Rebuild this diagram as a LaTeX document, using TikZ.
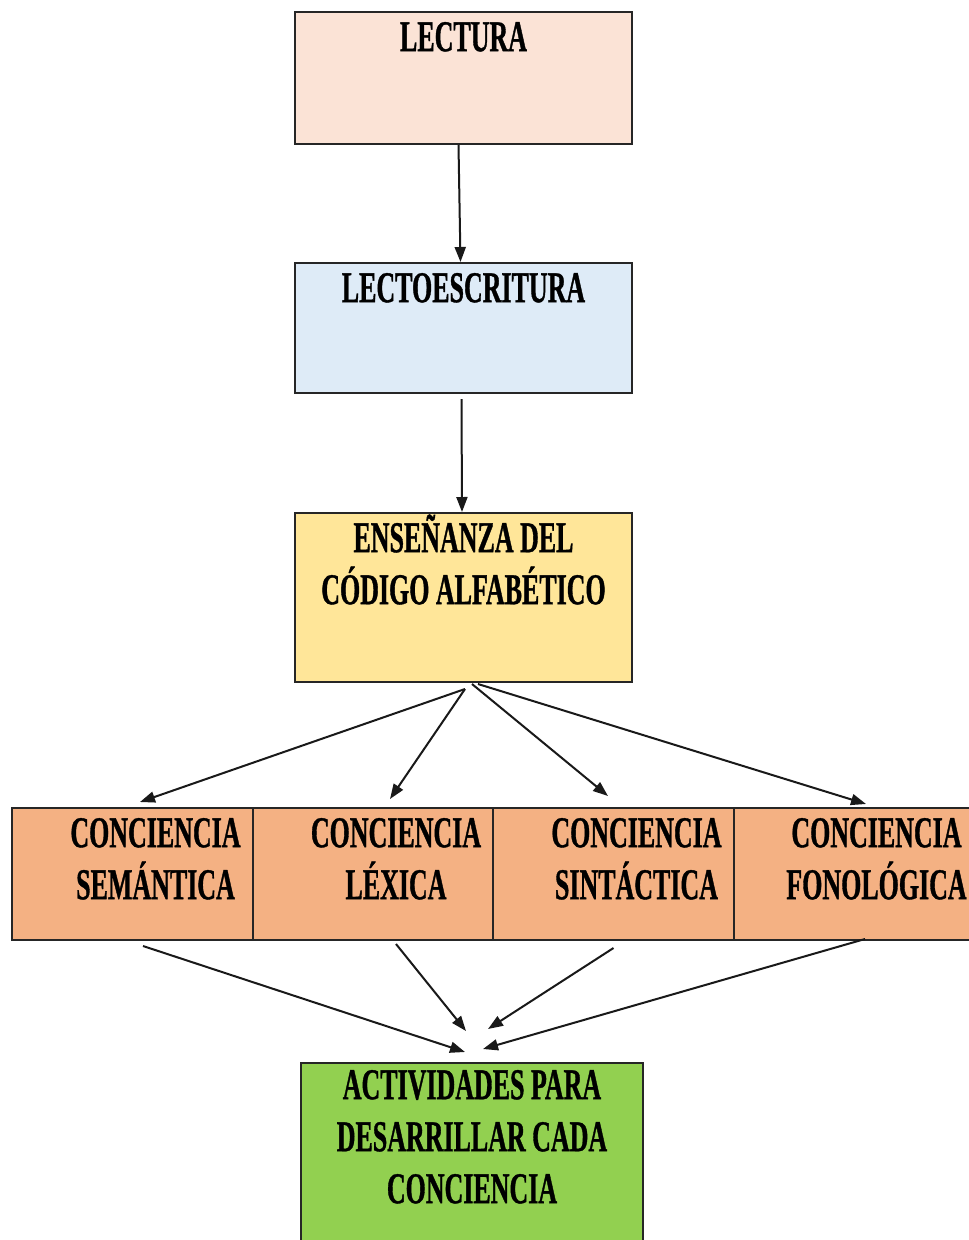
\documentclass[tikz,border=0pt]{standalone}
\usepackage{fontspec}
\newfontfamily\rotfont[FakeStretch=0.59,FakeBold=0.8]{Liberation Serif}
\usetikzlibrary{positioning,arrows.meta}
\definecolor{cLectura}{HTML}{FBE3D6}
\definecolor{cLecto}{HTML}{DEEBF7}
\definecolor{cCodigo}{HTML}{FFE699}
\definecolor{cConc}{HTML}{F4B183}
\definecolor{cAct}{HTML}{92D050}
\def\tope{\rule{0pt}{40pt}}
\tikzset{
  caja/.style={draw=black!85, line width=2pt, inner sep=0pt},
  celda/.style={caja, fill=cConc, minimum width=241pt, minimum height=132pt},
  rotulo/.style={font=\rotfont\bfseries\fontsize{44}{52}\selectfont, align=center, inner sep=0pt, anchor=north},
  flecha/.style={line width=2pt, draw=black!90, -{Triangle[length=15pt,width=11pt]}},
}

\begin{document}
\begin{tikzpicture}[x=1pt,y=-1pt]
\useasboundingbox (0,0) rectangle (969,1240);
% cajas
\node[caja, fill=cLectura, minimum width=337pt, minimum height=132pt] (lectura) at (463.5,78) {};
\node[caja, fill=cLecto, minimum width=337pt, minimum height=130pt] (lecto) at (463.5,328) {};
\node[caja, fill=cCodigo, minimum width=337pt, minimum height=169pt] (codigo) at (463.5,597.5) {};
\node[celda] (sem) at (132.5,874) {};
\node[celda] (lex) at (373,874) {};
\node[celda] (sin) at (613.5,874) {};
\node[celda] (fon) at (854.5,874) {};
\node[caja, fill=cAct, minimum width=342pt, minimum height=200pt] (act) at (472,1163) {};
% textos
\node[rotulo] (lectura-t) at (lectura.north) {\tope LECTURA};
\node[rotulo] (lecto-t) at (lecto.north) {\tope LECTOESCRITURA};
\node[rotulo] (codigo-t) at (codigo.north) {\tope ENSEÑANZA DEL\\CÓDIGO ALFABÉTICO};
\node[rotulo] (sem-t) at ([xshift=23pt]sem.north) {\tope CONCIENCIA\\SEMÁNTICA};
\node[rotulo] (lex-t) at ([xshift=23pt]lex.north) {\tope CONCIENCIA\\LÉXICA};
\node[rotulo] (sin-t) at ([xshift=23pt]sin.north) {\tope CONCIENCIA\\SINTÁCTICA};
\node[rotulo] (fon-t) at ([xshift=22pt]fon.north) {\tope CONCIENCIA\\FONOLÓGICA};
\node[rotulo, yshift=3pt] (act-t) at (act.north) {\tope ACTIVIDADES PARA\\DESARRILLAR CADA\\CONCIENCIA};
% flechas
\draw[flecha] ([xshift=-5pt]lectura.south) -- ([xshift=-3pt]lecto.north);
\draw[flecha] ([xshift=-2pt,yshift=-5pt]lecto.south) -- ([xshift=-1.5pt]codigo.north);
\draw[flecha] ([xshift=1.5pt,yshift=-6pt]codigo.south) -- ([xshift=7.5pt,yshift=5pt]sem.north);
\draw[flecha] ([xshift=1.5pt,yshift=-6pt]codigo.south) -- ([xshift=17pt,yshift=8pt]lex.north);
\draw[flecha] ([xshift=8.5pt,yshift=-1pt]codigo.south) -- ([xshift=-5.5pt,yshift=11pt]sin.north);
\draw[flecha] ([xshift=14.5pt,yshift=-1pt]codigo.south) -- ([xshift=11.5pt,yshift=3pt]fon.north);
\draw[flecha] ([xshift=10.5pt,yshift=-5pt]sem.south) -- ([xshift=-7pt,yshift=10pt]act.north);
\draw[flecha] ([xshift=23pt,yshift=-3pt]lex.south) -- ([xshift=-6pt,yshift=31pt]act.north);
\draw[flecha] ([yshift=-7pt]sin.south) -- ([xshift=16pt,yshift=33pt]act.north);
\draw[flecha] ([xshift=10.5pt,yshift=2pt]fon.south) -- ([xshift=11pt,yshift=13pt]act.north);
\end{tikzpicture}
\end{document}
